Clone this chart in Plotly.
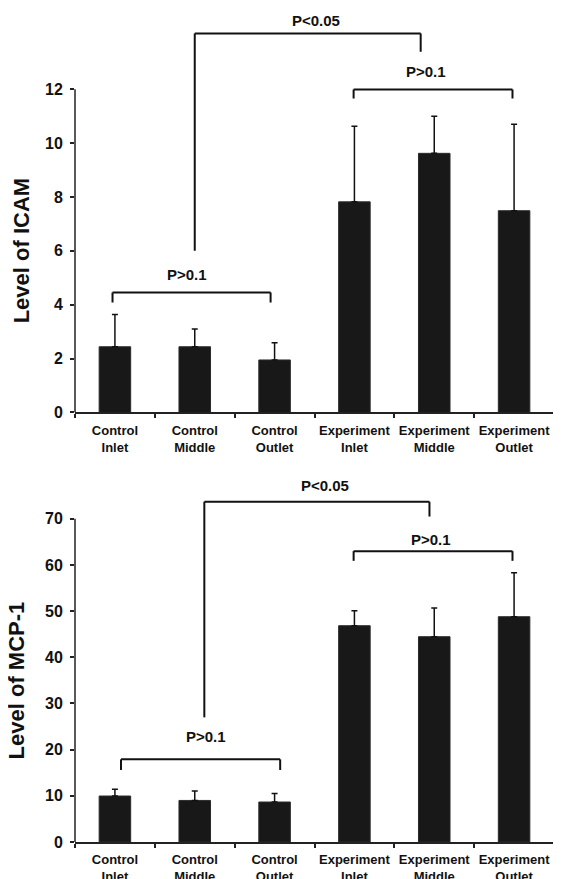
import plotly.graph_objects as go

# ---------------- data ----------------
categories = ["Control<br>Inlet", "Control<br>Middle", "Control<br>Outlet",
              "Experiment<br>Inlet", "Experiment<br>Middle", "Experiment<br>Outlet"]

icam_mean = [2.44, 2.44, 1.95, 7.82, 9.62, 7.49]
icam_err = [1.20, 0.66, 0.64, 2.81, 1.38, 3.21]

mcp_mean = [9.96, 9.00, 8.66, 46.85, 44.47, 48.80]
mcp_err = [1.44, 2.05, 1.84, 3.25, 6.23, 9.50]

icam_ticks = [0, 2, 4, 6, 8, 10, 12]
mcp_ticks = [0, 10, 20, 30, 40, 50, 60, 70]

y_titles = ["Level of ICAM", "Level of MCP-1"]
p_labels = ["P>0.1", "P<0.05", "P>0.1"]

# ---------------- style ----------------
FONT = "Liberation Sans, Arial, Helvetica, sans-serif"
INK = "#111111"
BAR = "#181818"

fig = go.Figure()

for mean, err, xa, ya in [(icam_mean, icam_err, "x", "y"), (mcp_mean, mcp_err, "x2", "y2")]:
    fig.add_trace(go.Bar(
        x=categories, y=mean, xaxis=xa, yaxis=ya,
        width=0.395,
        marker=dict(color=BAR, line=dict(color="#2b2b2b", width=1)),
        error_y=dict(type="data", symmetric=False, array=err,
                     arrayminus=[0] * len(err), color=INK, thickness=1.5, width=3),
        showlegend=False, hoverinfo="skip",
    ))

shapes = []
annotations = []


def bracket(xr, yr, x0, x1, yh, yl, yrr, lw=2):
    for (a, b, c, d) in [(x0, yl, x0, yh), (x0, yh, x1, yh), (x1, yh, x1, yrr)]:
        shapes.append(dict(type="line", xref=xr, yref=yr, x0=a, y0=b, x1=c, y1=d,
                           line=dict(color=INK, width=lw)))


def label(xr, yr, x, y, text):
    annotations.append(dict(xref=xr, yref=yr, x=x, y=y, text=text, showarrow=False,
                            xanchor="center", yanchor="middle",
                            font=dict(family=FONT, size=15, color=INK, weight="bold")))


# top chart brackets (ICAM)
bracket("x", "y", -0.03, 1.95, 4.45, 4.08, 4.08)
label("x", "y", 0.90, 5.13, p_labels[0])
bracket("x", "y", 1.0, 3.83, 14.07, 6.0, 13.39)
label("x", "y", 2.52, 14.54, p_labels[1])
bracket("x", "y", 2.99, 4.98, 11.99, 11.66, 11.66)
label("x", "y", 3.90, 12.65, p_labels[2])

# bottom chart brackets (MCP-1)
bracket("x2", "y2", 0.076, 2.07, 17.9, 15.6, 15.6)
label("x2", "y2", 1.14, 22.9, p_labels[0])
bracket("x2", "y2", 1.12, 3.94, 73.7, 27.0, 70.5)
label("x2", "y2", 2.63, 77.2, p_labels[1])
bracket("x2", "y2", 2.99, 4.98, 63.0, 60.9, 60.9)
label("x2", "y2", 3.96, 65.6, p_labels[2])

# y-axis titles, centred on the drawn part of each axis
for text, yr, xpos, ticks in [(y_titles[0], "y", -0.1117, icam_ticks),
                              (y_titles[1], "y2", -0.1232, mcp_ticks)]:
    annotations.append(dict(xref="paper", yref=yr, x=xpos, y=ticks[-1] / 2, text=text,
                            textangle=-90, showarrow=False, xanchor="center", yanchor="middle",
                            font=dict(family=FONT, size=22, color=INK, weight="bold")))

# y-axis lines only up to the last tick
shapes.append(dict(type="line", xref="x domain", yref="y", x0=0, x1=0, y0=0, y1=icam_ticks[-1],
                   line=dict(color="#222222", width=1.5)))
shapes.append(dict(type="line", xref="x2 domain", yref="y2", x0=0, x1=0, y0=0, y1=mcp_ticks[-1],
                   line=dict(color="#222222", width=1.5)))

xaxis_common = dict(
    type="category", tickson="boundaries", ticks="outside", ticklen=4, tickwidth=1.5,
    tickcolor="#222222", showline=True, linecolor="#222222", linewidth=1.5,
    showgrid=False, zeroline=False, tickangle=0, automargin=False, ticklabelstandoff=5,
    tickfont=dict(family=FONT, size=13, color=INK, weight="bold"),
    range=[-0.5, 5.5],
)
yaxis_common = dict(
    tickmode="array", ticks="outside", ticklen=4, tickwidth=1.5, tickcolor="#222222",
    showline=False, showgrid=False, zeroline=False, ticklabelstandoff=4, automargin=False,
    tickfont=dict(family=FONT, size=16, color=INK, weight="bold"),
)

# page body adds an 8px margin, so the figure is sized 8px smaller
fig.update_layout(
    width=553, height=871,
    margin=dict(l=67, r=7, t=0, b=37),
    paper_bgcolor="white", plot_bgcolor="white",
    bargap=0.6,
    xaxis=dict(domain=[0, 1], anchor="y", **xaxis_common),
    yaxis=dict(domain=[0.515, 1.0], anchor="x", range=[0, 15.015], tickvals=icam_ticks,
               **yaxis_common),
    xaxis2=dict(domain=[0, 1], anchor="y2", **xaxis_common),
    yaxis2=dict(domain=[0, 0.446], anchor="x2", range=[0, 80.57], tickvals=mcp_ticks,
                **yaxis_common),
    shapes=shapes,
    annotations=annotations,
)

fig.write_html("out.html")
